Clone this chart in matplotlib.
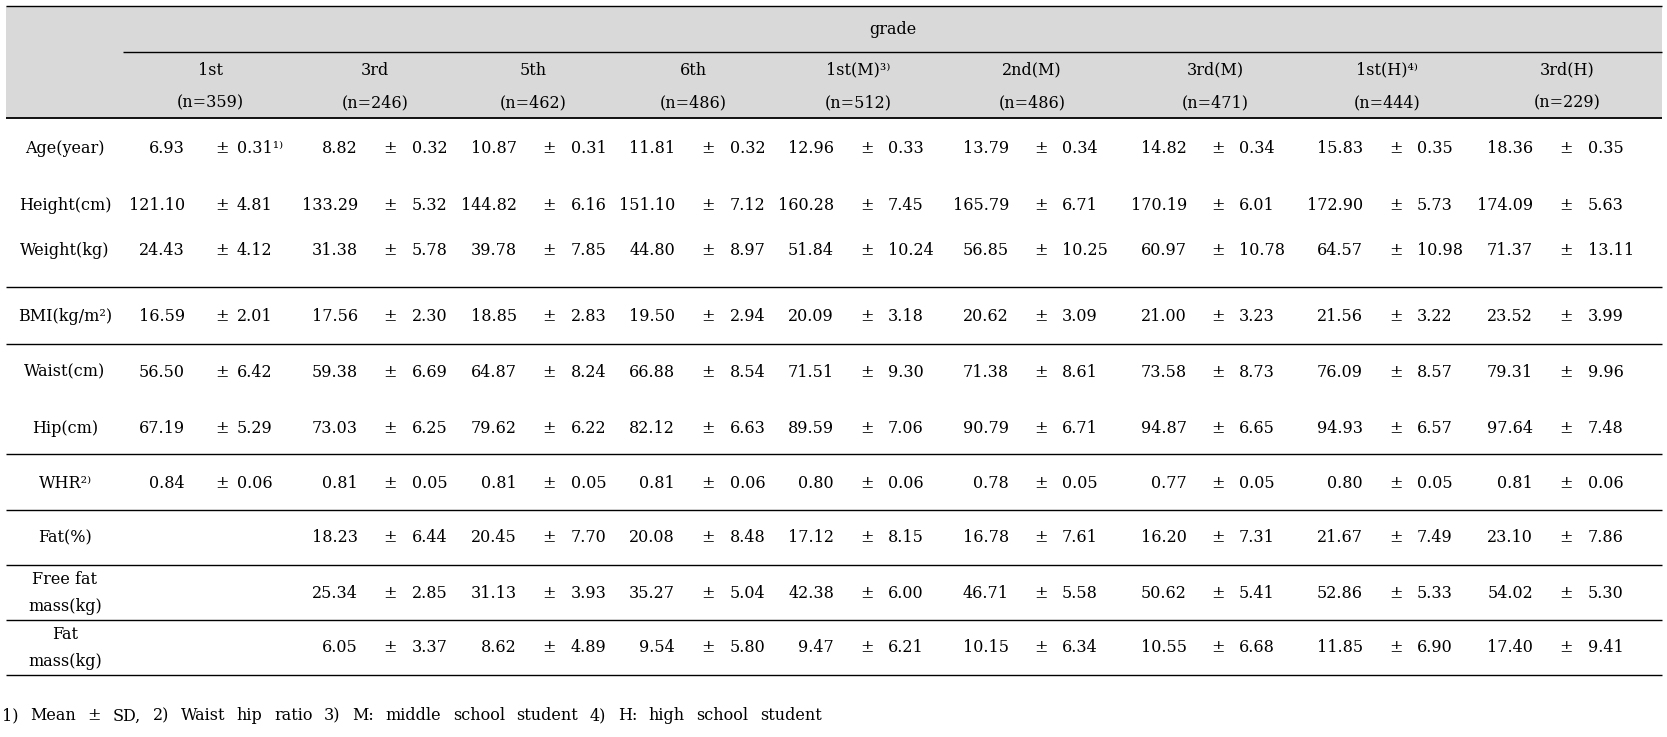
import numpy as np
import matplotlib
matplotlib.use("Agg")
from matplotlib import pyplot as plt

# --- datos de la tabla ---
grades = ["1st", "3rd", "5th", "6th", "1st(M)³⁾", "2nd(M)", "3rd(M)", "1st(H)⁴⁾", "3rd(H)"]
n_obs = [359, 246, 462, 486, 512, 486, 471, 444, 229]
row_labels = ["Age(year)", "Height(cm)", "Weight(kg)", "BMI(kg/m²)", "Waist(cm)", "Hip(cm)",
              "WHR²⁾", "Fat(%)", "Free fat\nmass(kg)", "Fat\nmass(kg)"]

age_mean = [6.93, 8.82, 10.87, 11.81, 12.96, 13.79, 14.82, 15.83, 18.36]
age_sd = [0.31, 0.32, 0.31, 0.32, 0.33, 0.34, 0.34, 0.35, 0.35]
height_mean = [121.10, 133.29, 144.82, 151.10, 160.28, 165.79, 170.19, 172.90, 174.09]
height_sd = [4.81, 5.32, 6.16, 7.12, 7.45, 6.71, 6.01, 5.73, 5.63]
weight_mean = [24.43, 31.38, 39.78, 44.80, 51.84, 56.85, 60.97, 64.57, 71.37]
weight_sd = [4.12, 5.78, 7.85, 8.97, 10.24, 10.25, 10.78, 10.98, 13.11]
bmi_mean = [16.59, 17.56, 18.85, 19.50, 20.09, 20.62, 21.00, 21.56, 23.52]
bmi_sd = [2.01, 2.30, 2.83, 2.94, 3.18, 3.09, 3.23, 3.22, 3.99]
waist_mean = [56.50, 59.38, 64.87, 66.88, 71.51, 71.38, 73.58, 76.09, 79.31]
waist_sd = [6.42, 6.69, 8.24, 8.54, 9.30, 8.61, 8.73, 8.57, 9.96]
hip_mean = [67.19, 73.03, 79.62, 82.12, 89.59, 90.79, 94.87, 94.93, 97.64]
hip_sd = [5.29, 6.25, 6.22, 6.63, 7.06, 6.71, 6.65, 6.57, 7.48]
whr_mean = [0.84, 0.81, 0.81, 0.81, 0.80, 0.78, 0.77, 0.80, 0.81]
whr_sd = [0.06, 0.05, 0.05, 0.06, 0.06, 0.05, 0.05, 0.05, 0.06]
fat_mean = [None, 18.23, 20.45, 20.08, 17.12, 16.78, 16.20, 21.67, 23.10]
fat_sd = [None, 6.44, 7.70, 8.48, 8.15, 7.61, 7.31, 7.49, 7.86]
ffm_mean = [None, 25.34, 31.13, 35.27, 42.38, 46.71, 50.62, 52.86, 54.02]
ffm_sd = [None, 2.85, 3.93, 5.04, 6.00, 5.58, 5.41, 5.33, 5.30]
fm_mean = [None, 6.05, 8.62, 9.54, 9.47, 10.15, 10.55, 11.85, 17.40]
fm_sd = [None, 3.37, 4.89, 5.80, 6.21, 6.34, 6.68, 6.90, 9.41]

footnote = "1) Mean ± SD, 2) Waist hip ratio 3) M: middle school student 4) H: high school student"

means = [age_mean, height_mean, weight_mean, bmi_mean, waist_mean, hip_mean,
         whr_mean, fat_mean, ffm_mean, fm_mean]
sds = [age_sd, height_sd, weight_sd, bmi_sd, waist_sd, hip_sd,
       whr_sd, fat_sd, ffm_sd, fm_sd]

# --- disposición (pixeles) ---
W, H = 1667, 737
x_left, x_right = 6, 1662
label_x = 65
head_x = [210, 375, 533, 693, 858, 1032, 1215, 1387, 1567]
mean_r = [185, 358, 517, 675, 834, 1009, 1187, 1363, 1533]
pm_x = [222, 390, 549, 708, 867, 1041, 1218, 1396, 1566]
sd_l = [237, 412, 571, 730, 888, 1062, 1239, 1417, 1588]
row_y = [148, 205, 250, 316, 372, 428, 483, 538, 593, 648]
lines_y = [287, 344, 454, 510, 565, 620, 675]
foot_end = 822
fs = 11.5

plt.rcParams['font.family'] = ['DejaVu Serif', 'DejaVu Sans']
fig = plt.figure(figsize=(W / 100, H / 100), dpi=100)
ax = fig.add_axes([0, 0, 1, 1])
ax.set_xlim(0, W)
ax.set_ylim(H, 0)
ax.axis('off')

# cabecera gris
ax.fill_between([x_left, x_right], 6, 118, color='#d9d9d9', lw=0, zorder=0)
ax.hlines(6, x_left, x_right, color='black', lw=1.0)
ax.hlines(52, 123, x_right, color='black', lw=1.0)
ax.hlines(118, x_left, x_right, color='black', lw=1.3)
ax.text((123 + x_right) / 2, 29, "grade", ha='center', va='center', fontsize=fs)
for g, n, x in zip(grades, n_obs, head_x):
    ax.text(x, 70, g, ha='center', va='center', fontsize=fs)
    ax.text(x, 103, f"(n={n})", ha='center', va='center', fontsize=fs)

# filas
for i, (lab, m_row, s_row) in enumerate(zip(row_labels, means, sds)):
    y = row_y[i]
    ax.text(label_x, y, lab, ha='center', va='center', fontsize=fs, linespacing=1.8)
    for j in range(len(grades)):
        if m_row[j] is None:
            continue
        ax.text(mean_r[j], y, f"{m_row[j]:.2f}", ha='right', va='center', fontsize=fs)
        ax.text(pm_x[j], y, "±", ha='center', va='center', fontsize=fs)
        sd_txt = f"{s_row[j]:.2f}"
        if i == 0 and j == 0:
            sd_txt += "¹⁾"
        ax.text(sd_l[j], y, sd_txt, ha='left', va='center', fontsize=fs)

ax.hlines(lines_y, x_left, x_right, color='black', lw=1.0)

# nota al pie, justificada
fig.canvas.draw()
renderer = fig.canvas.get_renderer()
words = footnote.split(" ")
pieces = [ax.text(0, 716, w, ha='left', va='center', fontsize=fs) for w in words]
widths = [p.get_window_extent(renderer).width for p in pieces]
gap = (foot_end - 2 - sum(widths)) / (len(words) - 1)
x = 2
for p, w in zip(pieces, widths):
    p.set_x(x)
    x += w + gap

plt.savefig("out.png", dpi=100)
